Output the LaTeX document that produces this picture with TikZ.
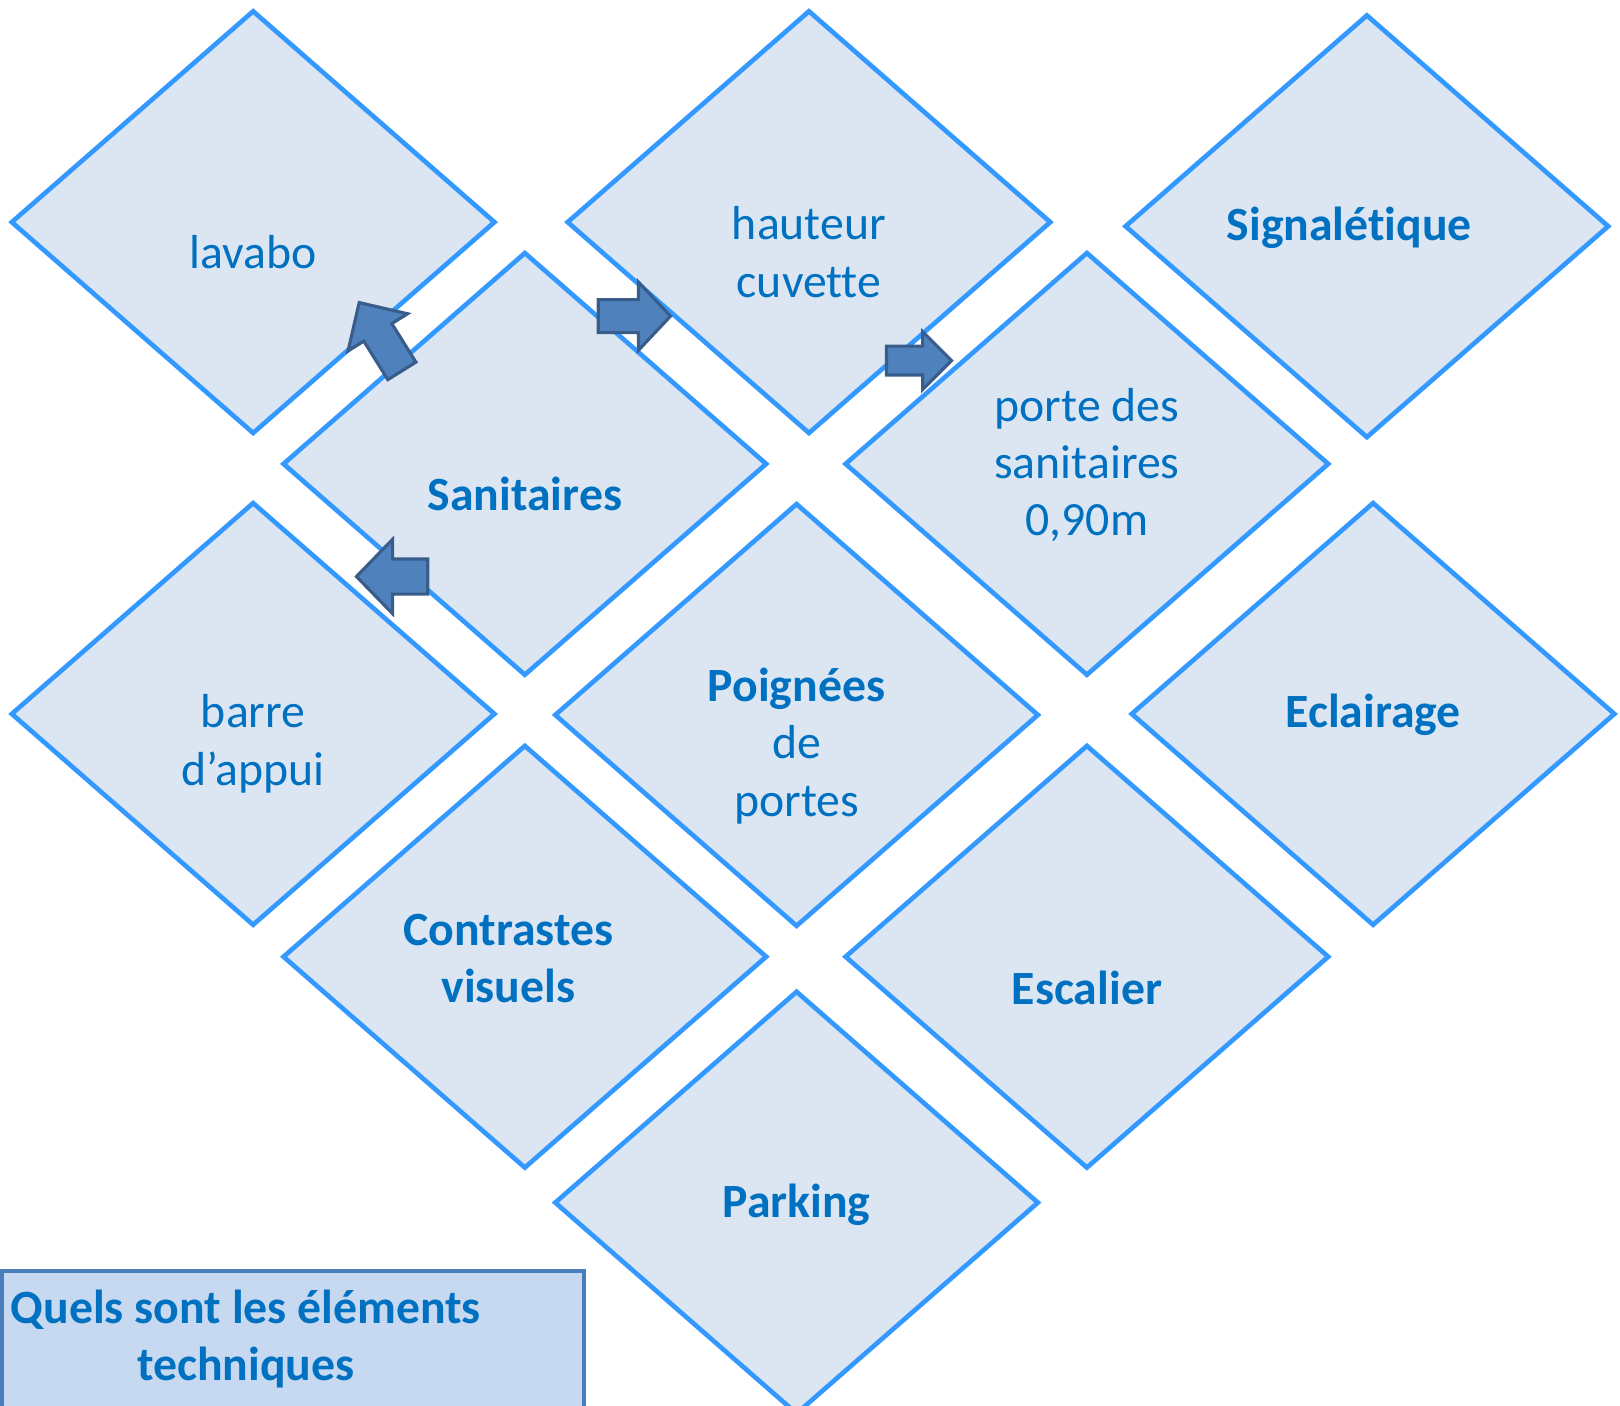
\documentclass[tikz,border=0pt]{standalone}
\usepackage{fontspec}
\setmainfont[Ligatures=NoCommon]{Carlito}
\usetikzlibrary{shapes.geometric}
\definecolor{dfill}{HTML}{DCE6F2}
\definecolor{dline}{HTML}{3399FF}
\definecolor{tblue}{HTML}{0070C0}
\definecolor{afill}{HTML}{4F81BD}
\definecolor{aline}{HTML}{385D8A}
\definecolor{bfill}{HTML}{C6D9F1}
\definecolor{bline}{HTML}{4A7EBB}
\begin{document}
\begin{tikzpicture}[x=1pt,y=-1pt,
  card/.style={diamond, draw=dline, fill=dfill, line width=4.5pt,
    minimum width=469pt, minimum height=410pt, inner sep=0pt},
  lbl/.style={text=tblue, align=center, inner sep=0pt,
    font=\fontsize{46.2}{55.5}\selectfont},
  blbl/.style={lbl, font=\fontsize{46.2}{55.5}\selectfont\bfseries},
  barrow/.style={draw=aline, fill=afill, line width=3pt, line join=miter},
  qbox/.style={rectangle, draw=bline, fill=bfill, line width=4pt,
    minimum width=563pt, minimum height=150pt, inner sep=0pt, anchor=north west},
  pics/barr/.style n args={4}{code={
    \draw[barrow] (0,-#4) -- (#1-#2,-#4) -- (#1-#2,-#3) -- (#1,0)
      -- (#1-#2,#3) -- (#1-#2,#4) -- (0,#4) -- cycle;}}]
\useasboundingbox (0,0) rectangle (1568,1360);
\clip (0,0) rectangle (1568,1360);

% diamonds
\node[card] (lav) at (245,215) {};
\node[card] (hau) at (783,215) {};
\node[card] (sig) at (1323,219) {};
\node[card] (san) at (508,449) {};
\node[card] (por) at (1052,449) {};
\node[card] (bar) at (245,691) {};
\node[card] (poi) at (771,692) {};
\node[card] (ecl) at (1329,691) {};
\node[card] (con) at (508,926) {};
\node[card] (esc) at (1052,926) {};
\node[card] (par) at (771,1164) {};

% labels
\node[lbl]  (tlav) at (245,244) {lavabo};
\node[lbl]  (thau) at (783,244) {hauteur\\cuvette};
\node[blbl] (tsig) at (1306,220) {Signalétique};
\node[blbl] (tsan) at (508,478) {Sanitaires};
\node[lbl]  (tpor) at (1052,450) {porte des\\sanitaires\\0,90m};
\node[lbl]  (tbar) at (245,720) {barre\\d’appui};
\node[lbl]  (tpoi) at (771,722) {\textbf{Poignées}\\de\\portes};
\node[blbl] (tecl) at (1329,692) {Eclairage};
\node[blbl] (tcon) at (492,928) {Contrastes\\visuels};
\node[blbl] (tesc) at (1052,956) {Escalier};
\node[blbl] (tpar) at (771,1166) {Parking};

% block arrows
\coordinate (a1) at (389,359);
\coordinate (a2) at (579,306);
\coordinate (a3) at (858,349);
\coordinate (a4) at (414,558);
\path (a1) pic[rotate=122] {barr={78}{34}{34}{16}};
\path (a2) pic {barr={70}{31}{33}{16}};
\path (a3) pic {barr={63}{28}{28}{14}};
\path (a4) pic[rotate=180] {barr={69}{35}{36}{17}};

% title box
\node[qbox] (qb) at (0,1228) {};
\node[blbl] (tq) at (238,1296) {Quels sont les éléments\\techniques};
\end{tikzpicture}
\end{document}
